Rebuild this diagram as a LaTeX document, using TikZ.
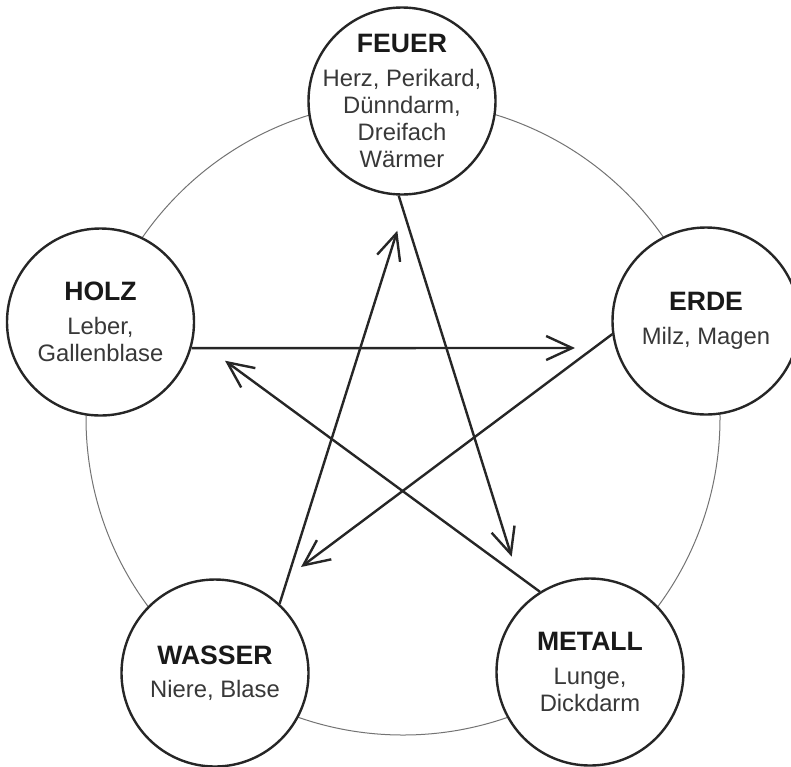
\documentclass[tikz,border=0pt]{standalone}
\usepackage{fontspec}
\setmainfont{Liberation Sans}
\usetikzlibrary{arrows.meta}
\newcommand{\elemtitle}[1]{{\fontsize{13.3}{13.5}\selectfont\bfseries\color{black!90}#1}\\[3.2pt]}
\begin{document}
\begin{tikzpicture}[x=0.5pt,y=-0.5pt,
  elem/.style={circle, draw=black!85, line width=1.2pt, fill=white, minimum size=93.5pt, inner sep=0pt},
  lbl/.style={align=center, inner sep=0pt, text=black!78, font=\fontsize{11.9}{13.5}\selectfont},
  arr/.style={line width=1.2pt, draw=black!85, -{Straight Barb[length=13pt,width=12pt]}},
  ring/.style={draw=black!55, line width=0.5pt}]
\useasboundingbox (0,0) rectangle (791,766);
\draw[ring] (403,418) circle[radius=317];

\node[elem] (feuer) at (402,101) {};
\node[elem] (erde) at (706,321) {};
\node[elem] (metall) at (590,672) {};
\node[elem] (wasser) at (215,673) {};
\node[elem] (holz) at (100.5,322) {};

\node[lbl] (feuer-t) at (feuer) {\elemtitle{FEUER}Herz, Perikard,\\Dünndarm,\\Dreifach\\Wärmer};
\node[lbl] (erde-t) at (erde) {\elemtitle{ERDE}Milz, Magen};
\node[lbl] (metall-t) at (metall) {\elemtitle{METALL}Lunge,\\Dickdarm};
\node[lbl] (wasser-t) at (wasser) {\elemtitle{WASSER}Niere, Blase};
\node[lbl] (holz-t) at (holz) {\elemtitle{HOLZ}Leber,\\Gallenblase};

\coordinate (tipErde) at (575,348);
\coordinate (tipWasser) at (301,567);
\coordinate (tipFeuer) at (397.3,230.7);
\coordinate (tipMetall) at (511.7,556.7);
\coordinate (tipHolz) at (225,360.7);

\draw[arr] (holz.-16.1) -- (tipErde);
\draw[arr] (erde.188) -- (tipWasser);
\draw[arr] (wasser.47.8) -- (tipFeuer);
\draw[arr] (feuer.-92.1) -- (tipMetall);
\draw[arr] (metall.122.8) -- (tipHolz);
\end{tikzpicture}
\end{document}
